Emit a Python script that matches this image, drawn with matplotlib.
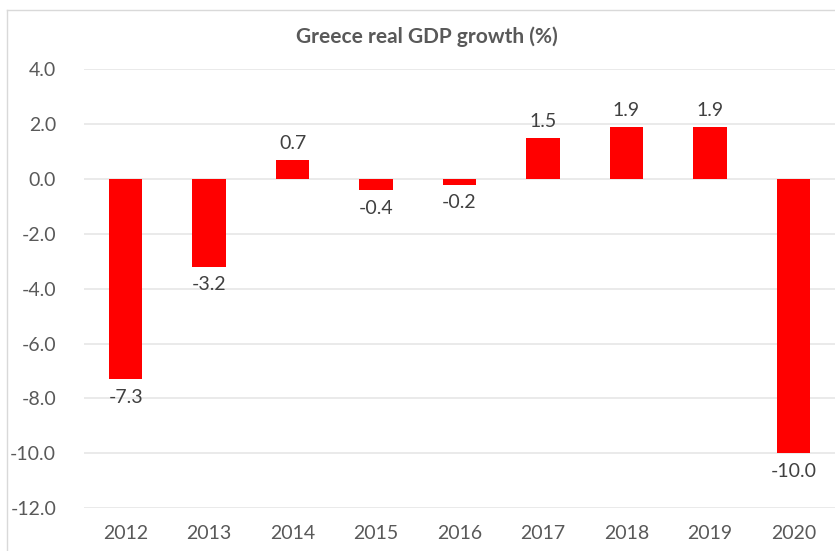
import matplotlib
matplotlib.use("Agg")
import matplotlib.pyplot as plt
from matplotlib.lines import Line2D

years = ["2012", "2013", "2014", "2015", "2016", "2017", "2018", "2019", "2020"]
growth = [-7.3, -3.2, 0.7, -0.4, -0.2, 1.5, 1.9, 1.9, -10.0]
y_ticks = [4.0, 2.0, 0.0, -2.0, -4.0, -6.0, -8.0, -10.0, -12.0]

plt.rcParams["font.family"] = ["Lato", "DejaVu Sans"]

W, H = 835, 551
fig = plt.figure(figsize=(W / 100, H / 100), dpi=100)
ax = fig.add_axes([84 / W, 1 - 508 / H, 1 - 84 / W, (508 - 69.4) / H])

x = list(range(len(years)))
ax.bar(x, growth, width=0.4, color="#ff0000", zorder=3)

ax.set_xlim(-0.5, len(years) - 0.5)
ax.set_ylim(min(y_ticks), max(y_ticks))
ax.set_yticks(y_ticks)
ax.set_yticklabels([f"{v:.1f}" for v in y_ticks])
ax.set_xticks(x)
ax.set_xticklabels(years)
ax.grid(axis="y", color="#e6e6e6", linewidth=1.2, zorder=0)
for s in ax.spines.values():
    s.set_visible(False)
ax.tick_params(axis="both", length=0, labelsize=14, labelcolor="#595959")
ax.tick_params(axis="y", pad=20)
ax.tick_params(axis="x", pad=12)

for xi, v in zip(x, growth):
    off = 6 if v >= 0 else -7
    ax.annotate(f"{v:.1f}", (xi, v), xytext=(0, off), textcoords="offset points",
                ha="center", va="bottom" if v >= 0 else "top",
                fontsize=14, color="#404040")

fig.text(427 / W, 1 - 37 / H, "Greece real GDP growth (%)", ha="center", va="center",
         fontsize=15, fontweight="bold", color="#595959")

# light chart-area frame along the left and top edges
fig.add_artist(Line2D([7 / W, 7 / W], [0, 1 - 10 / H], transform=fig.transFigure,
                      color="#d9d9d9", linewidth=1))
fig.add_artist(Line2D([7 / W, 1], [1 - 10 / H, 1 - 10 / H], transform=fig.transFigure,
                      color="#d9d9d9", linewidth=1))

fig.savefig("out.png", dpi=100)
